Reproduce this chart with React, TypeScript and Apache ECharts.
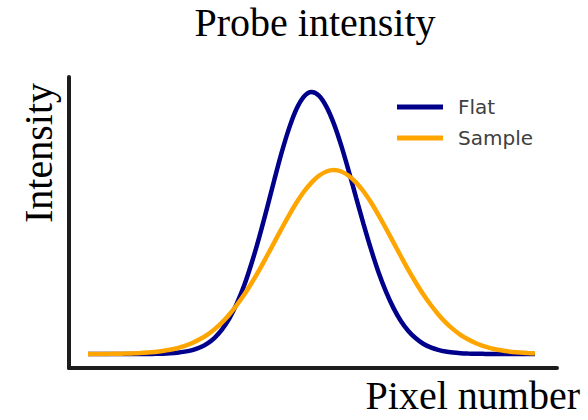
import React, { useEffect, useRef } from "react";
import * as echarts from "echarts";

const pixelNumbers = [
  0, 5, 10, 15, 20, 25, 30, 35, 40, 45, 50, 55, 60, 65, 70, 75, 80, 85, 90, 95,
  100, 105, 110, 115, 120, 125, 130, 135, 140, 145, 150, 155, 160, 165, 170, 175, 180, 185, 190, 195,
  200, 205, 210, 215, 220, 225, 230, 235, 240, 245, 250, 255, 260, 265, 270, 275, 280, 285, 290, 295, 300,
];
const flatValues = [
  0, 0, 0, 0, 0, 0, 0, 0, 0, 0.07, 0.14, 0.27, 0.5, 0.9, 1.5, 2.5, 4.0, 6.2, 9.4, 13.7,
  19.4, 26.4, 35.0, 44.7, 55.3, 66.3, 76.9, 86.2, 93.6, 98.3, 100, 98.6, 94.4, 87.9, 79.5, 69.8, 59.6, 49.5, 39.9, 31.2,
  23.8, 17.6, 12.6, 8.8, 6.0, 3.9, 2.5, 1.6, 0.95, 0.56, 0.32, 0.18, 0.1, 0.05, 0, 0, 0, 0, 0, 0, 0,
];
const sampleValues = [
  0.01, 0.02, 0.04, 0.06, 0.1, 0.15, 0.24, 0.36, 0.53, 0.78, 1.13, 1.6, 2.24, 3.08, 4.2, 5.6, 7.3, 9.5, 12.1, 15.2,
  18.8, 22.8, 27.3, 32.1, 37.3, 42.6, 47.9, 53.0, 57.8, 62.0, 65.4, 68.0, 69.65, 70.2, 69.65, 68.0, 65.4, 62.0, 57.8, 53.0,
  47.9, 42.6, 37.3, 32.1, 27.3, 22.8, 18.8, 15.2, 12.1, 9.5, 7.3, 5.6, 4.2, 3.08, 2.24, 1.6, 1.13, 0.78, 0.53, 0.36, 0.24,
];
const seriesNames = ["Flat", "Sample"];
const titleText = "Probe intensity";
const xAxisName = "Pixel number";
const yAxisName = "Intensity";

export default function App() {
  const ref = useRef<HTMLDivElement>(null);
  useEffect(() => {
    if (!ref.current) return;
    const chart = echarts.init(ref.current, null, { renderer: "svg" });
    const serif = '"Liberation Serif", "Times New Roman", serif';
    const axisCommon = {
      type: "value" as const,
      axisLine: { show: true, onZero: false, lineStyle: { color: "#1c1c1c", width: 4 } },
      axisTick: { show: false },
      axisLabel: { show: false },
      splitLine: { show: false },
    };
    chart.setOption({
      animation: false,
      backgroundColor: "#ffffff",
      title: {
        text: titleText,
        left: 315,
        top: 2,
        padding: 0,
        textAlign: "center",
        textStyle: { fontFamily: serif, fontSize: 40, fontWeight: "normal", color: "#000" },
      },
      legend: {
        data: seriesNames,
        orient: "vertical",
        left: 397,
        top: 96,
        padding: 0,
        itemGap: 9,
        icon: "rect",
        itemWidth: 46,
        itemHeight: 5,
        textStyle: { fontFamily: "DejaVu Sans", fontSize: 20, color: "#404040", lineHeight: 22, padding: [0, 0, 0, 10] },
      },
      grid: { left: 69, right: 31, top: 77, bottom: 52, containLabel: false },
      xAxis: { ...axisCommon, min: -12.75, max: 314.8 },
      yAxis: { ...axisCommon, min: -5.34, max: 105.7 },
      graphic: [
        {
          type: "text",
          x: 38.5,
          y: 153,
          rotation: Math.PI / 2,
          style: {
            text: yAxisName,
            font: `40px ${serif}`,
            fill: "#000",
            textAlign: "center",
            textVerticalAlign: "middle",
            align: "center",
            verticalAlign: "middle",
          },
        },
        {
          type: "text",
          x: 580,
          y: 395.5,
          style: {
            text: xAxisName,
            font: `40px ${serif}`,
            fill: "#000",
            textAlign: "right",
            textVerticalAlign: "middle",
            align: "right",
            verticalAlign: "middle",
          },
        },
      ],
      series: [
        {
          name: seriesNames[0],
          type: "line",
          smooth: 0.3,
          showSymbol: false,
          data: pixelNumbers.map((x, i) => [x, flatValues[i]]),
          lineStyle: { color: "#00008b", width: 4.5 },
          itemStyle: { color: "#00008b" },
        },
        {
          name: seriesNames[1],
          type: "line",
          smooth: 0.3,
          showSymbol: false,
          data: pixelNumbers.map((x, i) => [x, sampleValues[i]]),
          lineStyle: { color: "#ffa500", width: 4.5 },
          itemStyle: { color: "#ffa500" },
        },
      ],
    });
    return () => chart.dispose();
  }, []);
  return <div ref={ref} style={{ position: "absolute", left: 0, top: 0, width: 588, height: 420 }} />;
}
